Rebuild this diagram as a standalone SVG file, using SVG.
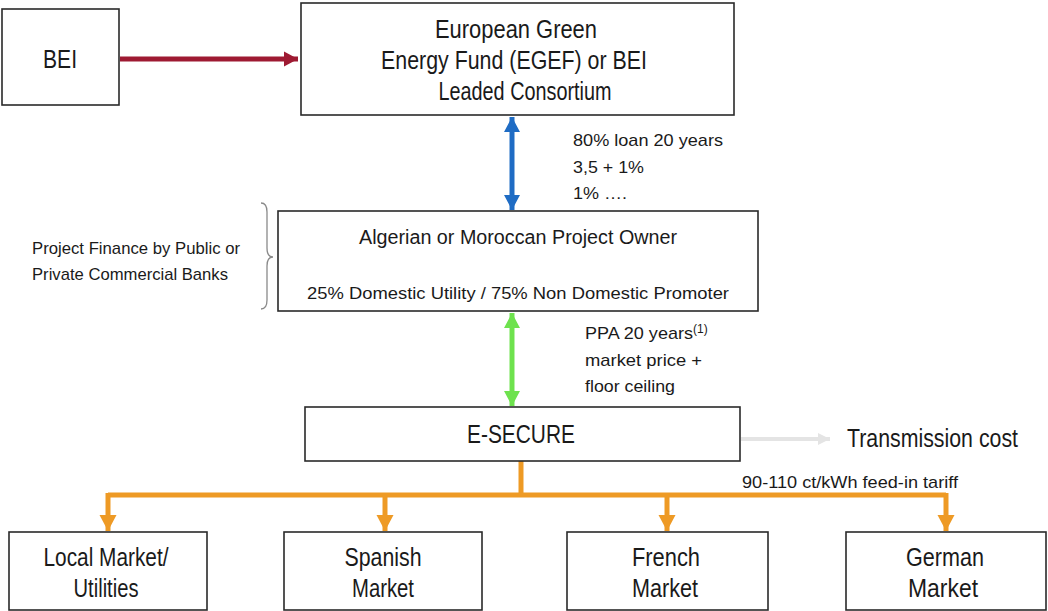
<svg xmlns="http://www.w3.org/2000/svg" width="1048" height="611" viewBox="0 0 1048 611">
<style>
  .box{fill:#fff;stroke:#2a2a2a;stroke-width:1.6}
  text{font-family:"Liberation Sans",Arial,sans-serif;fill:#1a1a1a}
  .c{text-anchor:middle}
  .big{font-size:25px}
  .mid{font-size:20px}
  .sm{font-size:17px}
  .conn{fill:none}
</style>
<defs>
  <marker id="redHead" markerUnits="userSpaceOnUse" markerWidth="16" markerHeight="18" refX="14" refY="9" orient="auto">
    <polygon points="0,1.5 14,9 0,16.5" fill="#9e1a32"/>
  </marker>
  <marker id="blueHead" markerUnits="userSpaceOnUse" markerWidth="16" markerHeight="18" refX="15" refY="9" orient="auto-start-reverse">
    <polygon points="0,1 15,9 0,17" fill="#1f6cc4"/>
  </marker>
  <marker id="greenHead" markerUnits="userSpaceOnUse" markerWidth="16" markerHeight="18" refX="15" refY="9" orient="auto-start-reverse">
    <polygon points="0,1 15,9 0,17" fill="#6ee24e"/>
  </marker>
  <marker id="orangeHead" markerUnits="userSpaceOnUse" markerWidth="18" markerHeight="20" refX="16" refY="10" orient="auto">
    <polygon points="0,1.5 16,10 0,18.5" fill="#ee9a25"/>
  </marker>
  <marker id="grayHead" markerUnits="userSpaceOnUse" markerWidth="14" markerHeight="14" refX="12" refY="7" orient="auto">
    <polygon points="0,1 12,7 0,13" fill="#e4e4e4"/>
  </marker>
</defs>
<rect width="1048" height="611" fill="#fff"/>

<g id="connectors">
  <line class="conn" x1="120" y1="59" x2="298" y2="59" stroke="#9e1a32" stroke-width="5" marker-end="url(#redHead)"/>
  <line class="conn" x1="512" y1="117" x2="512" y2="210" stroke="#1f6cc4" stroke-width="5" marker-start="url(#blueHead)" marker-end="url(#blueHead)"/>
  <line class="conn" x1="512" y1="313" x2="512" y2="406" stroke="#6ee24e" stroke-width="5" marker-start="url(#greenHead)" marker-end="url(#greenHead)"/>
  <line class="conn" x1="741" y1="439" x2="830" y2="439" stroke="#e4e4e4" stroke-width="4" marker-end="url(#grayHead)"/>
  <g stroke="#ee9a25" stroke-width="5" fill="none">
    <line x1="521" y1="461" x2="521" y2="495"/>
    <line x1="108" y1="495" x2="946" y2="495"/>
    <line x1="108" y1="493" x2="108" y2="531" marker-end="url(#orangeHead)"/>
    <line x1="385" y1="495" x2="385" y2="531" marker-end="url(#orangeHead)"/>
    <line x1="667" y1="495" x2="667" y2="531" marker-end="url(#orangeHead)"/>
    <line x1="946" y1="493" x2="946" y2="531" marker-end="url(#orangeHead)"/>
  </g>
  <path d="M261,203 Q267,203 267,212 L267,248 Q267,257 273,257 Q267,257 267,266 L267,300 Q267,309 261,309" fill="none" stroke="#8a8a8a" stroke-width="1.3"/>
</g>

<g id="bei">
  <rect class="box" x="2" y="9" width="117" height="96"/>
  <text class="c big" x="60" y="68" textLength="34" lengthAdjust="spacingAndGlyphs">BEI</text>
</g>

<g id="egef">
  <rect class="box" x="301" y="3" width="433" height="112"/>
  <text class="c big" x="516" y="38" textLength="162" lengthAdjust="spacingAndGlyphs">European Green</text>
  <text class="c big" x="514" y="69" textLength="266" lengthAdjust="spacingAndGlyphs">Energy Fund (EGEF) or BEI</text>
  <text class="c big" x="525" y="100" textLength="173" lengthAdjust="spacingAndGlyphs">Leaded Consortium</text>
</g>

<g id="loan-label">
  <text class="sm" x="573" y="146" textLength="150" lengthAdjust="spacingAndGlyphs">80% loan 20  years</text>
  <text class="sm" x="573" y="173" textLength="71" lengthAdjust="spacingAndGlyphs">3,5 + 1%</text>
  <text class="sm" x="573" y="199" textLength="54" lengthAdjust="spacingAndGlyphs">1% ….</text>
</g>

<g id="finance-label">
  <text class="sm" x="32" y="254" textLength="208" lengthAdjust="spacingAndGlyphs">Project Finance by Public or</text>
  <text class="sm" x="32" y="280" textLength="196" lengthAdjust="spacingAndGlyphs">Private Commercial Banks</text>
</g>

<g id="owner">
  <rect class="box" x="278" y="211" width="480" height="100"/>
  <text class="c mid" x="518" y="244" textLength="318" lengthAdjust="spacingAndGlyphs">Algerian or Moroccan Project  Owner</text>
  <text class="c sm" x="518" y="299" textLength="422" lengthAdjust="spacingAndGlyphs">25% Domestic Utility / 75% Non Domestic Promoter</text>
</g>

<g id="ppa-label">
  <text class="sm" x="585" y="339"><tspan textLength="108" lengthAdjust="spacingAndGlyphs">PPA 20 years</tspan><tspan font-size="12" dy="-6">(1)</tspan></text>
  <text class="sm" x="585" y="366" textLength="117" lengthAdjust="spacingAndGlyphs">market price +</text>
  <text class="sm" x="585" y="392" textLength="90" lengthAdjust="spacingAndGlyphs">floor ceiling</text>
</g>

<g id="esecure">
  <rect class="box" x="305" y="407" width="435" height="54"/>
  <text class="c big" x="521" y="443" textLength="108" lengthAdjust="spacingAndGlyphs">E-SECURE</text>
</g>

<g id="transmission">
  <text class="big" x="847" y="447" textLength="171" lengthAdjust="spacingAndGlyphs">Transmission cost</text>
</g>

<g id="tariff-label">
  <text class="sm" x="742" y="488" textLength="216" lengthAdjust="spacingAndGlyphs">90-110  ct/kWh feed-in tariff</text>
</g>

<g id="local">
  <rect class="box" x="9" y="532" width="198" height="78"/>
  <text class="c big" x="106" y="566" textLength="125" lengthAdjust="spacingAndGlyphs">Local Market/</text>
  <text class="c big" x="106" y="597" textLength="65" lengthAdjust="spacingAndGlyphs">Utilities</text>
</g>

<g id="spanish">
  <rect class="box" x="284" y="532" width="198" height="78"/>
  <text class="c big" x="383" y="566" textLength="77" lengthAdjust="spacingAndGlyphs">Spanish</text>
  <text class="c big" x="383" y="597" textLength="62" lengthAdjust="spacingAndGlyphs">Market</text>
</g>

<g id="french">
  <rect class="box" x="567" y="532" width="201" height="78"/>
  <text class="c big" x="666" y="566" textLength="68" lengthAdjust="spacingAndGlyphs">French</text>
  <text class="c big" x="665" y="597" textLength="66" lengthAdjust="spacingAndGlyphs">Market</text>
</g>

<g id="german">
  <rect class="box" x="846" y="532" width="200" height="78"/>
  <text class="c big" x="945" y="566" textLength="78" lengthAdjust="spacingAndGlyphs">German</text>
  <text class="c big" x="943" y="597" textLength="70" lengthAdjust="spacingAndGlyphs">Market</text>
</g>
</svg>
